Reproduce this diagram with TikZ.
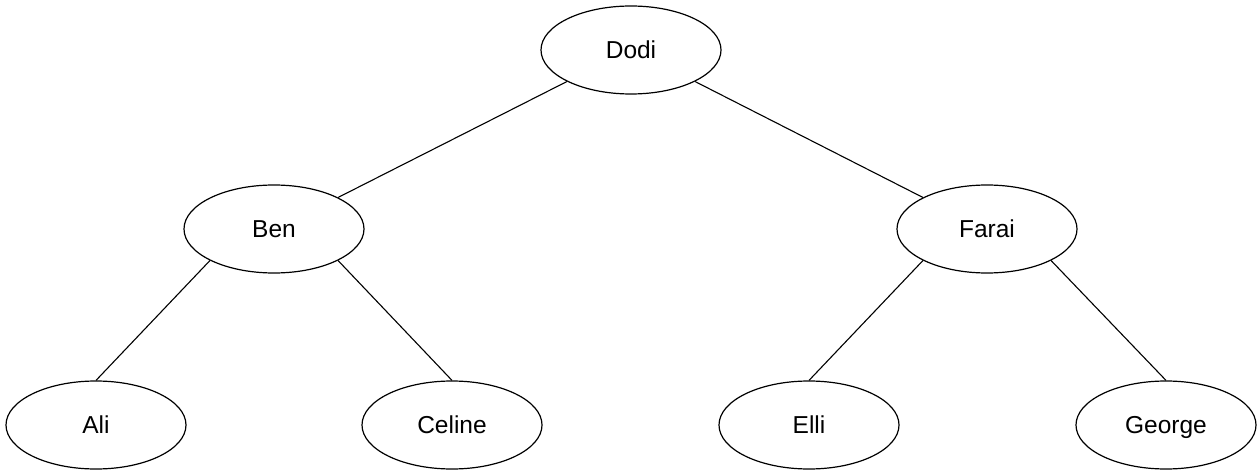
\documentclass[tikz,border=0pt]{standalone}
\usepackage{fontspec}
\setmainfont{Liberation Sans}
\usetikzlibrary{shapes.geometric}
\begin{document}
\begin{tikzpicture}[x=1pt,y=-1pt,
  person/.style={ellipse,draw=black,line width=1.2pt,minimum width=180pt,minimum height=88pt,inner sep=0pt,text height=17.5pt,text depth=0pt,font=\fontsize{24.5}{29}\selectfont},
  link/.style={draw=black,line width=1.1pt}]
\useasboundingbox (0,0) rectangle (1257,470);
\node[person] (dodi)   at (631,50)  {Dodi};
\node[person] (ben)    at (274,229) {Ben};
\node[person] (farai)  at (987,229) {Farai};
\node[person] (ali)    at (96,425)  {Ali};
\node[person] (celine) at (452,425) {Celine};
\node[person] (elli)   at (809,425) {Elli};
\node[person] (george) at (1166,425) {George};
\draw[link] (dodi.south west) -- (ben.north east);
\draw[link] (dodi.south east) -- (farai.north west);
\draw[link] (ben.south west) -- (ali.north);
\draw[link] (ben.south east) -- (celine.north);
\draw[link] (farai.south west) -- (elli.north);
\draw[link] (farai.south east) -- (george.north);
\end{tikzpicture}
\end{document}
